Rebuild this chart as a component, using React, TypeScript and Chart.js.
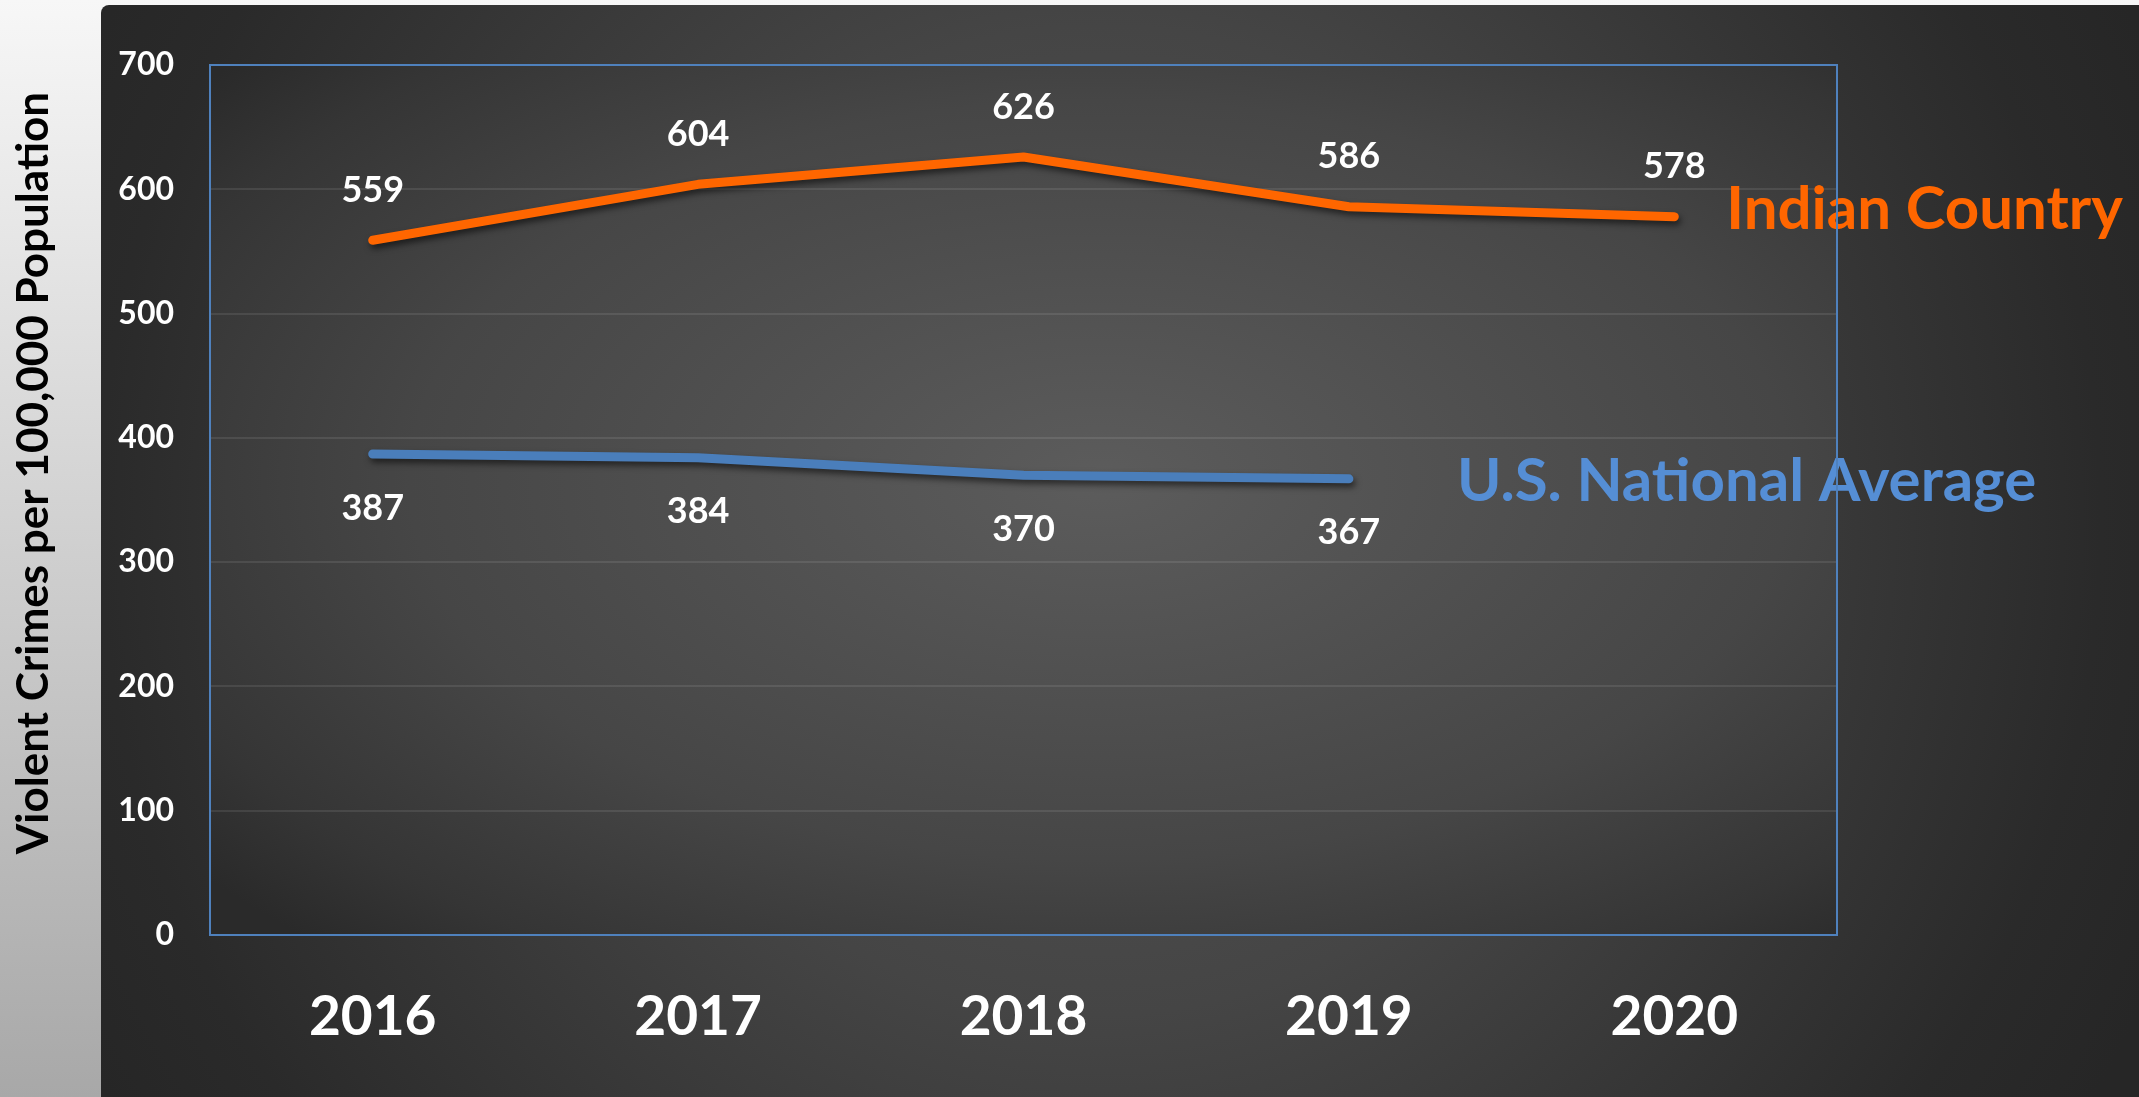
import React, { useEffect, useRef } from 'react';
import { Chart, registerables } from 'chart.js';

Chart.register(...registerables);

// ---------- data ----------
const categories = ['2016', '2017', '2018', '2019', '2020'];
const indianCountry: (number | null)[] = [559, 604, 626, 586, 578];
const usNational: (number | null)[] = [387, 384, 370, 367, null];
const seriesNames = ['Indian Country', 'U.S. National Average'];
const yAxisTitle = 'Violent Crimes per 100,000 Population';
const yMin = 0;
const yMax = 700;
const yStep = 100;

// ---------- styles ----------
const W = 2139;
const H = 1097;
const FONT = 'Lato, "Open Sans", "DejaVu Sans", sans-serif';
const ORANGE = '#FF6600';
const BLUE_LINE = '#4A7EBB';
const BLUE_TEXT = '#558ED5';
const BORDER = '#4F81BD';

const bgPlugin = {
  id: 'bgPlugin',
  beforeDraw(chart: any) {
    const ctx: CanvasRenderingContext2D = chart.ctx;
    const { left, top, right, bottom } = chart.chartArea;
    ctx.save();
    // light outer strip
    const lg = ctx.createLinearGradient(0, 0, 0, H);
    lg.addColorStop(0, '#f7f7f7');
    lg.addColorStop(1, '#a8a8a8');
    ctx.fillStyle = lg;
    ctx.fillRect(0, 0, W, H);

    // dark panel
    const rg = ctx.createRadialGradient(1100, 520, 0, 1100, 520, 1150);
    rg.addColorStop(0, '#555555');
    rg.addColorStop(0.43, '#454545');
    rg.addColorStop(0.87, '#2a2a2a');
    rg.addColorStop(1, '#262626');
    ctx.fillStyle = rg;
    ctx.beginPath();
    (ctx as any).roundRect(101, 5, W - 101, H - 5, [8, 0, 0, 0]);
    ctx.fill();

    // plot area (elliptical glow)
    const cx = 1100;
    const cy = 480;
    const sy = 0.55;
    ctx.save();
    ctx.translate(cx, cy);
    ctx.scale(1, sy);
    const pg = ctx.createRadialGradient(0, 0, 0, 0, 0, 1150);
    pg.addColorStop(0, '#5c5c5c');
    pg.addColorStop(0.6, '#464646');
    pg.addColorStop(0.87, '#353535');
    pg.addColorStop(1, '#2a2a2a');
    ctx.fillStyle = pg;
    ctx.fillRect(left - cx, (top - cy) / sy, right - left, (bottom - top) / sy);
    ctx.restore();

    // y axis title
    ctx.save();
    ctx.translate(34, 473);
    ctx.rotate(-Math.PI / 2);
    ctx.fillStyle = '#000000';
    ctx.font = `bold 44px ${FONT}`;
    ctx.textAlign = 'center';
    ctx.textBaseline = 'middle';
    ctx.fillText(yAxisTitle, 0, 0);
    ctx.restore();

    ctx.restore();
  },
  beforeDatasetDraw(chart: any) {
    const ctx = chart.ctx;
    ctx.save();
    ctx.shadowColor = 'rgba(0,0,0,0.55)';
    ctx.shadowBlur = 6;
    ctx.shadowOffsetX = 2;
    ctx.shadowOffsetY = 4;
  },
  afterDatasetDraw(chart: any) {
    chart.ctx.restore();
  },
  afterDatasetsDraw(chart: any) {
    const ctx: CanvasRenderingContext2D = chart.ctx;
    const { left, top, right, bottom } = chart.chartArea;
    ctx.save();
    ctx.fillStyle = '#ffffff';
    ctx.font = `bold 36px ${FONT}`;
    ctx.textAlign = 'center';
    ctx.textBaseline = 'middle';
    const offsets = [-50, 54];
    chart.data.datasets.forEach((ds: any, di: number) => {
      const meta = chart.getDatasetMeta(di);
      meta.data.forEach((pt: any, i: number) => {
        const v = ds.data[i];
        if (v === null || v === undefined) return;
        ctx.fillText(String(v), pt.x, pt.y + offsets[di]);
      });
    });

    // series name annotations
    ctx.font = `bold 60px ${FONT}`;
    ctx.textAlign = 'left';
    ctx.textBaseline = 'alphabetic';
    const m0 = chart.getDatasetMeta(0).data;
    const p0 = m0[m0.length - 1];
    ctx.fillStyle = ORANGE;
    ctx.fillText(seriesNames[0], p0.x + 52, p0.y + 12);
    const m1 = chart.getDatasetMeta(1).data;
    let last = 0;
    usNational.forEach((v, i) => { if (v !== null) last = i; });
    const p1 = m1[last];
    ctx.fillStyle = BLUE_TEXT;
    ctx.fillText(seriesNames[1], p1.x + 108, p1.y + 22);

    // plot border
    ctx.strokeStyle = BORDER;
    ctx.lineWidth = 2;
    ctx.strokeRect(left, top, right - left, bottom - top);
    ctx.restore();
  },
};

export default function App() {
  const canvasRef = useRef<HTMLCanvasElement | null>(null);

  useEffect(() => {
    document.body.style.margin = '0';
    document.body.style.overflow = 'hidden';
    let chart: Chart | null = null;
    let cancelled = false;
    const make = () => {
      if (cancelled || !canvasRef.current) return;
      chart = new Chart(canvasRef.current, {
        type: 'line',
        data: {
          labels: categories,
          datasets: [
            {
              label: seriesNames[0],
              data: indianCountry,
              borderColor: ORANGE,
              backgroundColor: ORANGE,
              borderWidth: 9,
              pointRadius: 0,
              borderCapStyle: 'round',
              borderJoinStyle: 'round',
              tension: 0,
            },
            {
              label: seriesNames[1],
              data: usNational,
              borderColor: BLUE_LINE,
              backgroundColor: BLUE_LINE,
              borderWidth: 9,
              pointRadius: 0,
              borderCapStyle: 'round',
              borderJoinStyle: 'round',
              tension: 0,
            },
          ],
        },
        options: {
          responsive: false,
          animation: false,
          devicePixelRatio: 1,
          layout: { padding: { left: 0, right: W - 1837, top: 65, bottom: 0 } },
          plugins: {
            legend: { display: false },
            tooltip: { enabled: false },
            title: { display: false },
          },
          scales: {
            x: {
              offset: true,
              grid: { display: false },
              border: { display: false },
              ticks: {
                color: '#ffffff',
                font: { family: FONT, size: 55, weight: 'bold' },
                padding: 41,
                maxRotation: 0,
              },
              afterFit: (scale: any) => { scale.height = H - 935; },
            },
            y: {
              min: yMin,
              max: yMax,
              grid: {
                color: (c: any) =>
                  c.tick && (c.tick.value === yMin || c.tick.value === yMax)
                    ? 'rgba(0,0,0,0)'
                    : 'rgba(255,255,255,0.09)',
                lineWidth: 2,
                drawTicks: false,
              },
              border: { display: false },
              ticks: {
                stepSize: yStep,
                color: '#ffffff',
                font: { family: FONT, size: 32, weight: 'bold' },
                padding: 36,
              },
              afterFit: (scale: any) => { scale.width = 210; },
            },
          },
        },
        plugins: [bgPlugin],
      } as any);
    };
    const fontsReady = (document as any).fonts
      ? Promise.all([
          (document as any).fonts.load(`bold 36px Lato`),
          (document as any).fonts.load(`bold 60px Lato`),
        ]).catch(() => null)
      : Promise.resolve(null);
    fontsReady.then(make);
    return () => {
      cancelled = true;
      if (chart) chart.destroy();
    };
  }, []);

  return (
    <canvas
      ref={canvasRef}
      width={W}
      height={H}
      style={{ display: 'block', width: W, height: H }}
    />
  );
}
